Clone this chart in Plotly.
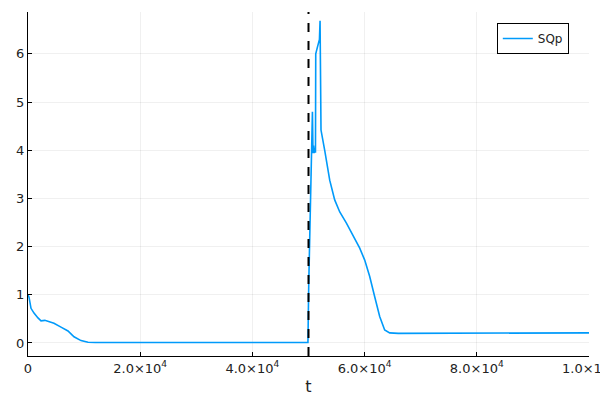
import plotly.graph_objects as go

# data
t_vals = [0, 180, 535, 1070, 1780, 2320, 3000, 3560, 4630, 5880, 7130, 8200, 9450,
          10700, 12000, 20000, 30000, 40000, 49900,
          50040, 50200, 50400, 50600, 50700, 50800, 50900, 51000, 51150, 51240,
          51290, 51500, 51830, 51950, 52060, 52230, 52890, 53780, 54670, 55570,
          56760, 57930, 59130, 60020, 60910, 61800, 62690, 63580, 64470, 66000,
          70000, 80000, 90000, 100000]
sqp_vals = [1.0, 0.95, 0.72, 0.62, 0.52, 0.46, 0.47, 0.45, 0.41, 0.33, 0.25, 0.13, 0.05,
            0.015, 0.01, 0.01, 0.01, 0.01, 0.01,
            1.2, 2.0, 3.0, 3.9, 4.8, 3.94, 4.1, 3.94, 4.05, 3.95,
            6.0, 6.1, 6.25, 6.3, 6.69, 4.42, 4.0, 3.38, 2.97, 2.72,
            2.49, 2.24, 1.97, 1.72, 1.38, 0.96, 0.55, 0.27, 0.21, 0.2,
            0.2, 0.2, 0.205, 0.21]
vline_t = 50000
x_tickvals = [0, 20000, 40000, 60000, 80000, 100000]
x_ticktext = ["0", "2.0×10<sup>4</sup>", "4.0×10<sup>4</sup>", "6.0×10<sup>4</sup>",
              "8.0×10<sup>4</sup>", "1.0×10<sup>5</sup>"]
y_tickvals = [0, 1, 2, 3, 4, 5, 6]
x_range = [0, 100000]
y_range = [-0.27, 6.87]

fig = go.Figure()
fig.add_trace(go.Scatter(x=t_vals, y=sqp_vals, mode="lines", name="SQp",
                         line=dict(color="#009AFA", width=1.6)))
fig.add_shape(type="line", xref="x", yref="paper", x0=vline_t, x1=vline_t, y0=0, y1=1,
              line=dict(color="black", width=2, dash="dash"))

font = "DejaVu Sans"
fig.update_layout(
    width=600, height=400,
    margin=dict(l=28, r=11, t=12, b=44),
    plot_bgcolor="white", paper_bgcolor="white",
    font=dict(family=font, size=13, color="#222222"),
    showlegend=True,
    legend=dict(x=0.964, y=0.968, xanchor="right", yanchor="top",
                bgcolor="white", bordercolor="black", borderwidth=1,
                font=dict(family=font, size=12, color="#222222")),
    xaxis=dict(range=x_range, tickvals=x_tickvals, ticktext=x_ticktext,
               automargin=False, ticklabeloverflow="allow",
               showgrid=True, gridcolor="rgba(0,0,0,0.06)", gridwidth=1,
               zeroline=False, showline=True, linecolor="black", linewidth=1,
               ticks="inside", ticklen=4, tickcolor="black",
               tickfont=dict(size=13),
               title=dict(text="t", font=dict(size=16, family=font), standoff=6)),
    yaxis=dict(range=y_range, tickvals=y_tickvals, automargin=False,
               showgrid=True, gridcolor="rgba(0,0,0,0.06)", gridwidth=1,
               zeroline=False, showline=True, linecolor="black", linewidth=1,
               ticks="inside", ticklen=4, tickcolor="black",
               tickfont=dict(size=13)),
)

fig.write_html("out.html", config={"displayModeBar": False},
               post_script="document.body.style.margin='0';document.body.style.overflow='hidden';")
